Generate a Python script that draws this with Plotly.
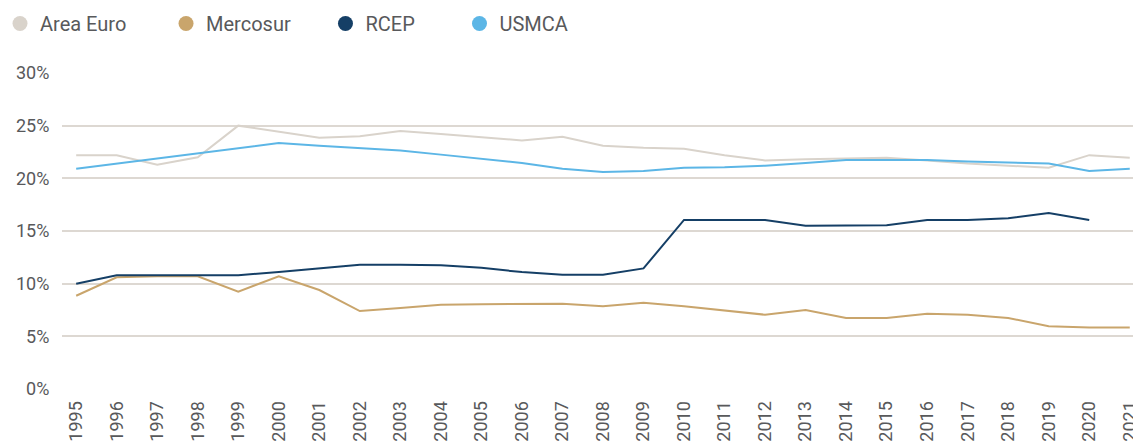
import plotly.graph_objects as go

years = list(range(1995, 2022))

area_euro = [22.2, 22.2, 21.3, 22.0, 25.0, 24.4, 23.85, 24.0, 24.5, 24.2, 23.9, 23.6, 23.95,
             23.1, 22.9, 22.8, 22.2, 21.7, 21.8, 21.9, 21.95, 21.7, 21.4, 21.2, 21.0, 22.2, 21.95]
mercosur = [8.85, 10.6, 10.7, 10.7, 9.25, 10.7, 9.4, 7.4, 7.7, 8.0, 8.05, 8.1, 8.1,
            7.85, 8.2, 7.85, 7.45, 7.05, 7.5, 6.75, 6.75, 7.15, 7.05, 6.75, 5.95, 5.85, 5.85]
rcep = [10.0, 10.8, 10.8, 10.8, 10.8, 11.1, 11.45, 11.8, 11.8, 11.75, 11.5, 11.1, 10.85,
        10.85, 11.45, 16.05, 16.05, 16.05, 15.5, 15.5, 15.55, 16.05, 16.05, 16.2, 16.7, 16.05, None]
usmca = [20.9, 21.4, 21.9, 22.4, 22.9, 23.35, 23.1, 22.9, 22.65, 22.25, 21.85, 21.45, 20.9,
         20.6, 20.7, 21.0, 21.05, 21.2, 21.45, 21.75, 21.75, 21.75, 21.6, 21.5, 21.4, 20.7, 20.9]

series = [
    ("Area Euro", area_euro, "#d9d3cb"),
    ("Mercosur", mercosur, "#c9a56c"),
    ("RCEP", rcep, "#153f66"),
    ("USMCA", usmca, "#5cb6e6"),
]
# extra room after each legend label (non-breaking spaces), legend is spaced wide
legend_pad = [7, 6, 8, 0]

fig = go.Figure()
for (name, vals, color), pad in zip(series, legend_pad):
    fig.add_trace(go.Scatter(
        x=years, y=[None if v is None else v / 100 for v in vals], mode="lines",
        name=name, line=dict(color=color, width=2), showlegend=False,
    ))
    # dot-shaped legend entry
    fig.add_trace(go.Scatter(
        x=[None], y=[None], mode="markers", name=name + "\u00a0" * pad,
        marker=dict(color=color, size=15, symbol="circle"),
    ))

grey = "#58595b"
fig.update_layout(
    width=1133, height=441,
    margin=dict(l=62, r=0, t=73, b=52),
    plot_bgcolor="white", paper_bgcolor="white",
    font=dict(family="Roboto, sans-serif", size=18, color=grey),
    legend=dict(
        orientation="h", x=0, y=0.991, xanchor="left", yanchor="top",
        yref="container", xref="container",
        font=dict(size=20, color=grey), itemwidth=30,
    ),
)
fig.update_xaxes(
    range=[1994.65, 2021.08], tickmode="array", tickvals=years,
    ticktext=[str(y) for y in years], tickangle=-90, showgrid=False,
    zeroline=False, showline=False, ticks="outside", ticklen=4,
    tickcolor="white", automargin=False, ticklabeloverflow="allow",
    tickfont=dict(size=18, color=grey),
)
fig.update_yaxes(
    range=[0, 0.30], dtick=0.05, tickformat=".0%", showgrid=True,
    gridcolor="#ddd8d2", gridwidth=1.5, zeroline=False, showline=False,
    ticks="outside", ticklen=8, tickcolor="white", automargin=False,
    tickfont=dict(size=18, color=grey),
)

# drop the browser's default body margin so the figure sits at the page corner
fig.write_html("out.html", config={"displayModeBar": False},
               post_script="document.body.style.margin='0';")
